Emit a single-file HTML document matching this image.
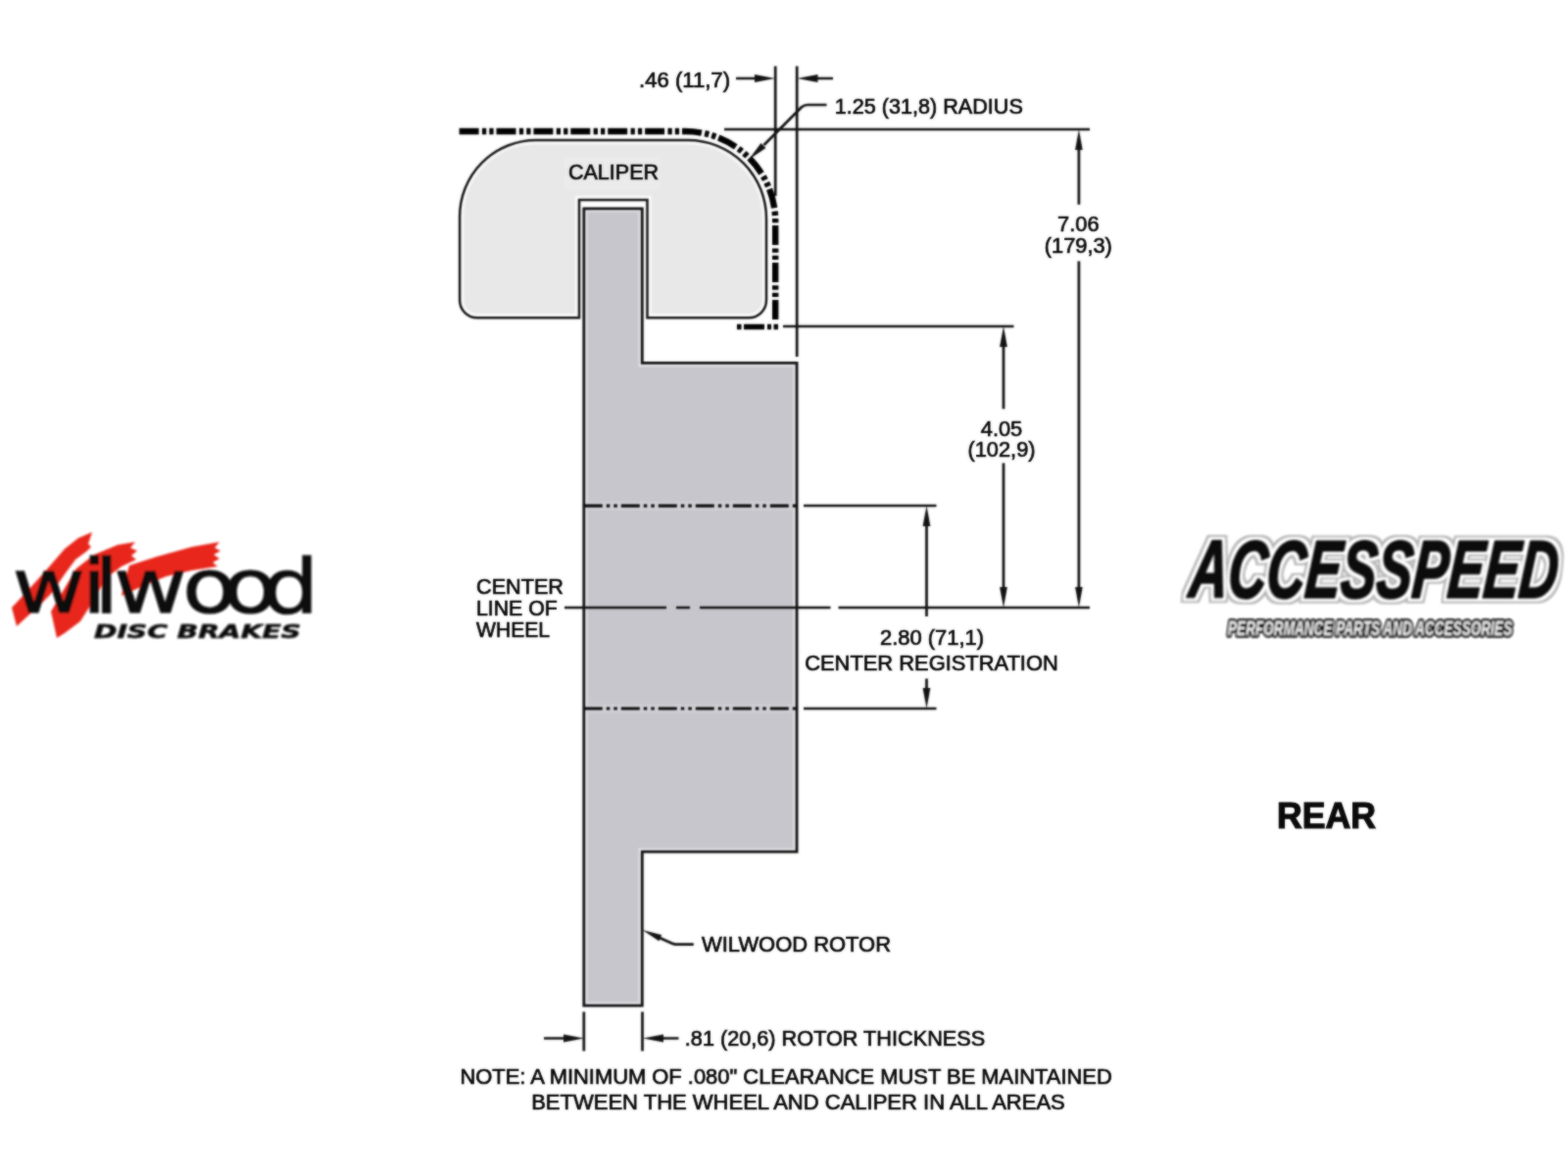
<!DOCTYPE html>
<html lang="en">
<head>
<meta charset="utf-8">
<title>Wilwood Rotor Clearance Diagram - Rear</title>
<style>
html,body{margin:0;padding:0;background:#fff;}
body{width:1600px;height:1200px;overflow:hidden;position:relative;}
svg{position:absolute;left:0;top:0;display:block;}
text{font-family:"Liberation Sans",sans-serif;}
.t{font-size:21.8px;fill:#050505;stroke:#0a0a0a;stroke-width:0.7px;}
.ln{stroke:#101010;stroke-width:2.7;fill:none;}
.dd{stroke:#0c0c0c;stroke-width:3.2;fill:none;}
.ah{fill:#111;stroke:none;}
</style>
</head>
<body>
<svg width="1600" height="1200" viewBox="0 0 1600 1200">
<defs>
<filter id="soft" x="-5%" y="-5%" width="110%" height="110%" color-interpolation-filters="sRGB"><feGaussianBlur in="SourceGraphic" stdDeviation="0.85" result="b"/><feComposite in="SourceGraphic" in2="b" operator="arithmetic" k1="0" k2="0.3" k3="0.7" k4="0"/></filter>
<filter id="softt" x="-5%" y="-5%" width="110%" height="110%" color-interpolation-filters="sRGB"><feGaussianBlur in="SourceGraphic" stdDeviation="0.85" result="b"/><feComposite in="SourceGraphic" in2="b" operator="arithmetic" k1="0" k2="0.45" k3="0.55" k4="0"/></filter>
<filter id="soft2" x="-5%" y="-5%" width="110%" height="110%"><feGaussianBlur stdDeviation="0.9"/></filter>
<clipPath id="ccal"><path d="M591 324.3 H487.1 A18 18 0 0 1 469.1 306.3 V221 A78 78 0 0 1 547.1 143 H702 A80 80 0 0 1 782 223 V306.3 A18 18 0 0 1 764 324.3 H660.5 V204.1 H591 Z"/></clipPath>
<clipPath id="crot"><path d="M595.8 212.8 H655.3 V370.4 H813.1 V869.2 H655.3 V1026.2 H595.8 Z"/></clipPath>
<filter id="outl" x="-5%" y="-20%" width="110%" height="140%" color-interpolation-filters="sRGB">
<feMorphology in="SourceAlpha" operator="dilate" radius="4.6" result="d2"/>
<feFlood flood-color="#b4b4b4" result="fg"/><feComposite in="fg" in2="d2" operator="in" result="g"/>
<feMorphology in="SourceAlpha" operator="dilate" radius="2.8" result="d1"/>
<feFlood flood-color="#ffffff" result="fw"/><feComposite in="fw" in2="d1" operator="in" result="w"/>
<feMerge result="m"><feMergeNode in="g"/><feMergeNode in="w"/><feMergeNode in="SourceGraphic"/></feMerge>
<feGaussianBlur in="m" stdDeviation="0.9"/>
</filter>
</defs>
<rect x="0" y="0" width="1600" height="1200" fill="#ffffff"/>

<!-- DIAGRAM -->
<g id="diagram" filter="url(#soft)">
<!-- caliper -->
<path d="M591 324.3 H487.1 A18 18 0 0 1 469.1 306.3 V221 A78 78 0 0 1 547.1 143 H702 A80 80 0 0 1 782 223 V306.3 A18 18 0 0 1 764 324.3 H660.5 V204.1 H591 Z" fill="#e8e8e8" stroke="none"/>
<path d="M591 324.3 H487.1 A18 18 0 0 1 469.1 306.3 V221 A78 78 0 0 1 547.1 143 H702 A80 80 0 0 1 782 223 V306.3 A18 18 0 0 1 764 324.3 H660.5 V204.1 H591 Z" fill="none" stroke="#fbfbfb" stroke-width="8.5" stroke-linejoin="miter" clip-path="url(#ccal)"/>
<path d="M591 324.3 H487.1 A18 18 0 0 1 469.1 306.3 V221 A78 78 0 0 1 547.1 143 H702 A80 80 0 0 1 782 223 V306.3 A18 18 0 0 1 764 324.3 H660.5 V204.1 H591 Z" fill="none" stroke="#141414" stroke-width="2.5" stroke-linejoin="miter"/>
<!-- rotor -->
<path d="M595.8 212.8 H655.3 V370.4 H813.1 V869.2 H655.3 V1026.2 H595.8 Z" fill="#c7c6cc" stroke="none"/>
<path d="M595.8 212.8 H655.3 V370.4 H813.1 V869.2 H655.3 V1026.2 H595.8 Z" fill="none" stroke="#e2e2e6" stroke-width="7.5" stroke-linejoin="miter" clip-path="url(#crot)"/>
<path d="M595.8 212.8 H655.3 V370.4 H813.1 V869.2 H655.3 V1026.2 H595.8 Z" fill="none" stroke="#101010" stroke-width="2.8" stroke-linejoin="miter"/>
<!-- phantom wheel line -->
<path d="M468.6 134 H699.2 A92 92 0 0 1 791.2 226 V326.2" fill="none" stroke="#000" stroke-width="6.4" stroke-dasharray="20 3.35 4.3 3.05 4.3 2.9"/>
<path d="M752 333.5 H794" fill="none" stroke="#000" stroke-width="5.6" stroke-dasharray="4.5 2.5 21 3 4 2.5 5 10"/>
<!-- registration dash-dot lines -->
<path d="M599 516.2 H810 M599 723 H810" fill="none" stroke="#d6d6db" stroke-width="9" opacity="0.6"/>
<path d="M595.8 516.2 H813" class="dd" stroke-dasharray="19 4 3.5 4 3.5 4"/>
<path d="M595.8 723 H813" class="dd" stroke-dasharray="19 4 3.5 4 3.5 4"/>
<!-- center line -->
<path d="M576 620 H680 M690 620 H704 M714 620 H847.5 M855.5 620 H1112" class="ln"/>
<!-- extension lines top -->
<path d="M791.2 67.5 V200 M813.2 67.5 V364" class="ln"/>
<path d="M751 80 H775 M830 80 H850" class="ln"/>
<path class="ah" d="M791 80 L770 76.1 L770 83.9 Z"/>
<path class="ah" d="M813.5 80 L834.5 76.1 L834.5 83.9 Z"/>
<!-- radius leader -->
<path d="M843.5 107 H824 Q820.5 107 818 109.2 L779.5 148" class="ln" stroke-linejoin="round"/>
<path class="ah" d="M763.9 163.1 L776.5 145.9 L781.5 151.1 Z"/>
<!-- top horizontal + 7.06 -->
<path d="M739 132 H1112" class="ln"/>
<path d="M1100.9 150 V208.8 M1100.9 266.4 V602" class="ln"/>
<path class="ah" d="M1100.9 132 L1097.1 153 L1104.7 153 Z"/>
<path class="ah" d="M1100.9 620 L1097.1 599 L1104.7 599 Z"/>
<!-- 4.05 -->
<path d="M799 333 H1034.5" class="ln"/>
<path d="M1024 350 V417.3 M1024 472.6 V602" class="ln"/>
<path class="ah" d="M1024 333 L1020.1 354 L1027.9 354 Z"/>
<path class="ah" d="M1024 620 L1020.1 599 L1027.9 599 Z"/>
<!-- 2.80 -->
<path d="M820 516 H955.5 M820 723 H955.5" class="ln"/>
<path d="M945.5 534 V629 M945.5 692.5 V705" class="ln"/>
<path class="ah" d="M945.5 516 L941.6 537 L949.4 537 Z"/>
<path class="ah" d="M945.5 723 L941.6 702 L949.4 702 Z"/>
<!-- rotor leader -->
<path d="M707.8 963.6 H689.5 Q688 963.6 686.6 963 L672 956.4" class="ln" stroke-width="2.4"/>
<path class="ah" d="M655.6 948.9 L675.2 954.1 L672.4 960.3 Z"/>
<!-- thickness -->
<path d="M595.8 1032.5 V1072.5 M655.5 1032.5 V1072.5" class="ln"/>
<path d="M555 1059.5 H580 M672 1059.5 H692.5" class="ln"/>
<path class="ah" d="M596 1059.5 L575 1055.6 L575 1063.4 Z"/>
<path class="ah" d="M656 1059.5 L677 1055.6 L677 1063.4 Z"/>
</g>

<!-- LABELS -->
<rect x="576" y="160" width="98" height="34" fill="#ffffff" opacity="0.14" filter="url(#soft2)"/>
<g id="labels" filter="url(#softt)">
<text class="t" x="652" y="89.2" textLength="93" lengthAdjust="spacingAndGlyphs">.46 (11,7)</text>
<text class="t" x="851.8" y="116.3" textLength="192" lengthAdjust="spacingAndGlyphs">1.25 (31,8) RADIUS</text>
<text class="t" x="580" y="183" textLength="92" lengthAdjust="spacingAndGlyphs">CALIPER</text>
<text class="t" x="1100.3" y="235.6" text-anchor="middle">7.06</text>
<text class="t" x="1100.3" y="257.5" text-anchor="middle">(179,3)</text>
<text class="t" x="1022" y="444.6" text-anchor="middle">4.05</text>
<text class="t" x="1022" y="466.3" text-anchor="middle">(102,9)</text>
<text class="t" x="486" y="605.5" textLength="89" lengthAdjust="spacingAndGlyphs">CENTER</text>
<text class="t" x="486" y="627.5" textLength="82.8" lengthAdjust="spacingAndGlyphs">LINE OF</text>
<text class="t" x="486" y="649.5" textLength="75" lengthAdjust="spacingAndGlyphs">WHEEL</text>
<text class="t" x="898" y="657.5" textLength="106" lengthAdjust="spacingAndGlyphs">2.80 (71,1)</text>
<text class="t" x="821.2" y="684" textLength="258.6" lengthAdjust="spacingAndGlyphs">CENTER REGISTRATION</text>
<text class="t" x="716" y="971" textLength="193" lengthAdjust="spacingAndGlyphs">WILWOOD ROTOR</text>
<text class="t" x="698.8" y="1066.6" textLength="306.4" lengthAdjust="spacingAndGlyphs">.81 (20,6) ROTOR THICKNESS</text>
<text class="t" x="469.4" y="1105.5" textLength="665.4" lengthAdjust="spacingAndGlyphs">NOTE: A MINIMUM OF .080" CLEARANCE MUST BE MAINTAINED</text>
<text class="t" x="542.2" y="1132.3" textLength="544.6" lengthAdjust="spacingAndGlyphs">BETWEEN THE WHEEL AND CALIPER IN ALL AREAS</text>
<text x="1303" y="845" font-size="36" font-weight="700" fill="#0a0a0a" stroke="#0a0a0a" stroke-width="1.2" textLength="101" lengthAdjust="spacingAndGlyphs">REAR</text>
</g>

<!-- WILWOOD LOGO -->
<g id="wilwood" filter="url(#soft2)">
<path fill="#e8281c" d="M12 620 L27 604 L47 582 L66 560 L80 549 L94 543 L90 555 L93 558 L88.5 562.5 L77 571 L66 586 L52 606 L40 618 L29 628 L17 639 Z"/>
<path fill="#e8281c" d="M52 624 L66 600 L78 580 L96 566 L120 556 L138 553 L133 559 L140 562 L134 567 L139 571 L124 578 L108 590 L96 612 L82 634 L66 646 L58 651 Z"/>
<path fill="#e8281c" d="M124 608 L128 590 L132 577 L160 568 L196 558 L224 553 L219 559 L225 562 L218 566 L224 570 L217 574 L222 578 L196 582 L170 588 L150 596 Z"/>
<text transform="scale(1.2,1)" x="10.50 69.58 80.00 96.75 155.00 189.50 223.00" y="625" font-size="76" style="font-family:'DejaVu Sans','Liberation Sans',sans-serif" fill="#0d0d0d" stroke="#0d0d0d" stroke-width="0.9">wilwood</text>
<text x="96" y="650.5" font-size="19.6" font-weight="700" font-style="italic" style="font-family:'DejaVu Sans','Liberation Sans',sans-serif" fill="#0d0d0d" stroke="#0d0d0d" stroke-width="0.6" textLength="211" lengthAdjust="spacingAndGlyphs">DISC BRAKES</text>
</g>

<!-- ACCESSPEED LOGO -->
<g id="accesspeed">
<text filter="url(#outl)" transform="translate(0,609.5) skewX(-5) translate(0,-609.5)" x="1212" y="609.5" font-size="83" font-weight="700" font-style="italic" fill="#0c0c0c" stroke="#0c0c0c" stroke-width="2.2" stroke-linejoin="round" textLength="376" lengthAdjust="spacingAndGlyphs">ACCESSPEED</text>
<text filter="url(#soft2)" x="1253" y="647.5" font-size="20" font-weight="700" font-style="italic" fill="#f4f4f4" stroke="#0c0c0c" stroke-width="5.6" stroke-linejoin="round" paint-order="stroke" textLength="290" lengthAdjust="spacingAndGlyphs">PERFORMANCE PARTS AND ACCESSORIES</text>
</g>
</svg>
</body>
</html>
